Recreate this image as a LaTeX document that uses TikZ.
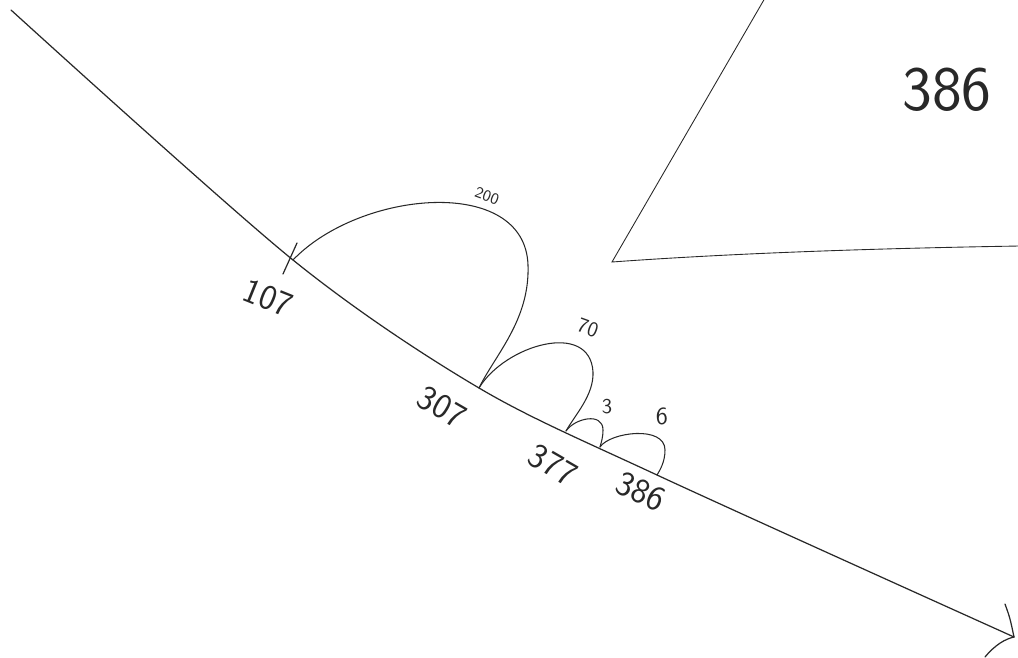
\documentclass[tikz,border=0pt]{standalone}
\usepackage{tikz}
\usetikzlibrary{positioning, calc}
\usepackage{xcolor}
\definecolor{pencil}{RGB}{40,40,40}
\tikzset{
  numline/.style={pencil, line width=0.7pt, line cap=round},
  jump/.style={pencil, line width=0.6pt, line cap=round},
  numlabel/.style={pencil, font=\sffamily\fontsize{20}{20}\selectfont, inner sep=0pt},
  jumplabel/.style={pencil, font=\sffamily\fontsize{12}{12}\selectfont, inner sep=0pt}
}

\begin{document}
\begin{tikzpicture}[x=0.02cm, y=-0.02cm]
  \useasboundingbox (0,0) rectangle (1018,658);
  % points on the number line
  \coordinate (start) at (11,10);
  \coordinate (n107) at (293,260);
  \coordinate (n307) at (479,388);
  \coordinate (n377) at (566,431);
  \coordinate (n380) at (600,447);
  \coordinate (n386) at (657,475);
  \coordinate (tip) at (1014,637);
  % the line
  \draw[numline] plot[smooth, tension=0.5] coordinates {(start) (n107) (n307) (n386) (tip)};
  % hand drawn arrow head
  \coordinate (headA) at (1005,604);
  \coordinate (headB) at (985,657);
  \draw[numline] (headA) .. controls (1010,618) .. (tip);
  \draw[numline] (headB) .. controls (995,645) and (1005,639) .. (tip);
  % tick at the start
  \coordinate (tickA) at (283,274);
  \coordinate (tickB) at (297,243);
  \draw[numline] (tickA) -- (tickB);
  % jumps
  \draw[jump] (n107) .. controls (360,190) and (525,175) .. (528,265)
    .. controls (530,320) and (495,355) .. (n307);
  \draw[jump] (n307) .. controls (505,345) and (590,320) .. (593,372)
    .. controls (594,395) and (575,415) .. (n377);
  \draw[jump] (n377) .. controls (575,418) and (603,412) .. (603,430)
    .. controls (603,438) and (601,443) .. (n380);
  \draw[jump] (n380) .. controls (610,432) and (665,425) .. (665,450)
    .. controls (665,462) and (660,470) .. (n386);
  % labels under the line
  \node[numlabel, rotate=-22] (l107) at (268,298) {107};
  \node[numlabel, rotate=-30] (l307) at (442,407) {307};
  \node[numlabel, rotate=-30] (l377) at (553,465) {377};
  \node[numlabel, rotate=-25] (l386) at (641,492) {386};
  % jump sizes
  \node[jumplabel, font=\sffamily\fontsize{9}{9}\selectfont, rotate=-20] (j200) at (487,196) {200};
  \node[jumplabel, rotate=-20] (j70) at (588,328) {70};
  \node[jumplabel] (j3) at (607,407) {3};
  \node[jumplabel, font=\sffamily\fontsize{14}{14}\selectfont] (j6) at (662,416) {6};
  % speech bubble
  \coordinate (bubTop) at (765,-2);
  \coordinate (bubCorner) at (612,262);
  \coordinate (bubRight) at (1020,246);
  \draw[jump, line width=0.5pt] (bubTop) -- (bubCorner) .. controls (750,252) and (900,248) .. (bubRight);
  \node[pencil, font=\sffamily\fontsize{36}{36}\selectfont, inner sep=0pt] (answer) at (947,90) {386};
\end{tikzpicture}
\end{document}
